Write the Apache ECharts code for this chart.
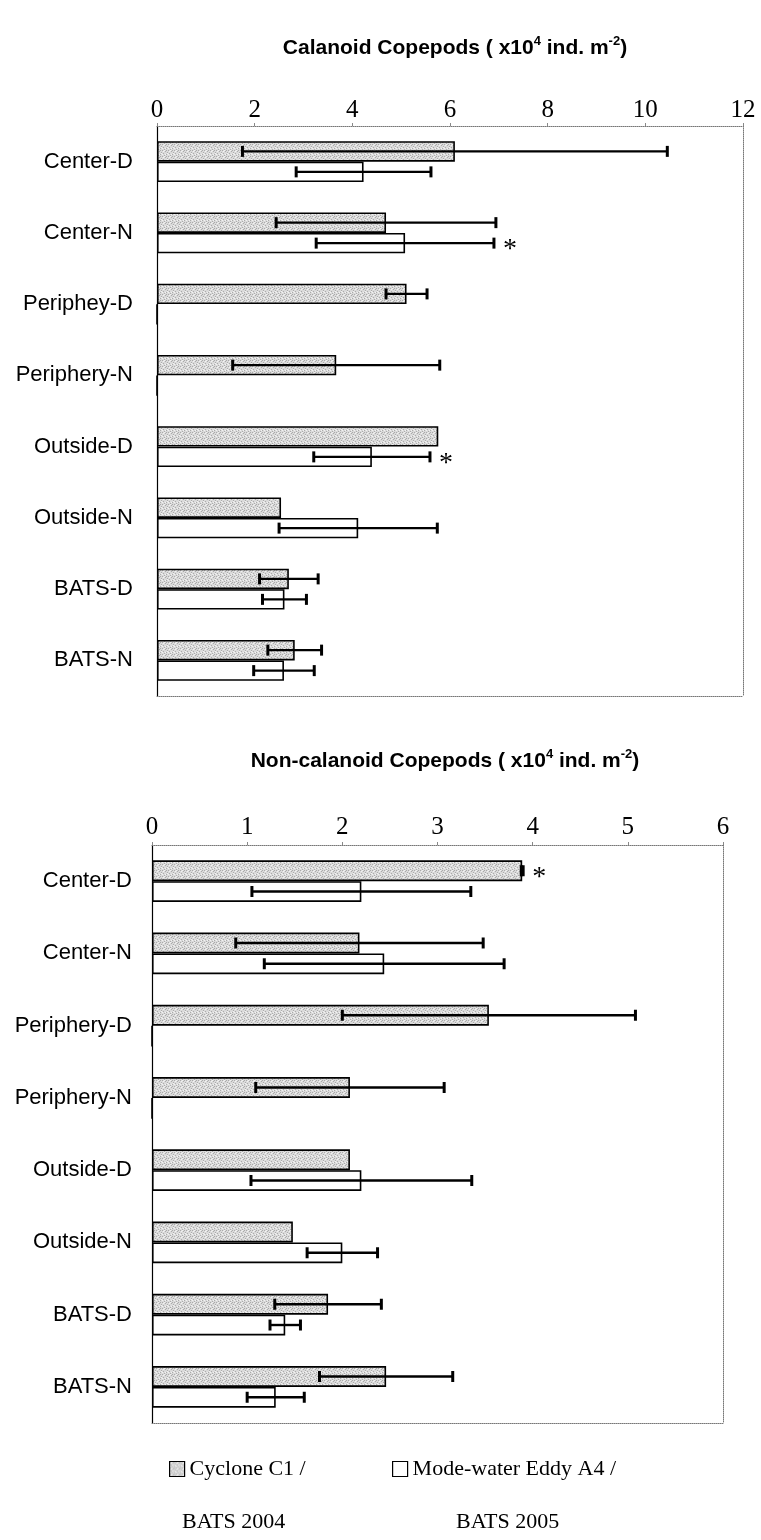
<!DOCTYPE html>
<html>
<head>
<meta charset="utf-8">
<script src="https://cdn.jsdelivr.net/npm/echarts@6/dist/echarts.min.js"></script>
<style>
  html, body { margin: 0; padding: 0; background: #fff; }
  #chart { width: 761px; height: 1540px; }
</style>
</head>
<body>
<div id="chart"></div>
<script>
// Sampling stations (day / night casts)
const calCategories = ['Center-D', 'Center-N', 'Periphey-D', 'Periphery-N', 'Outside-D', 'Outside-N', 'BATS-D', 'BATS-N'];
const nonCategories = ['Center-D', 'Center-N', 'Periphery-D', 'Periphery-N', 'Outside-D', 'Outside-N', 'BATS-D', 'BATS-N'];

// Series names
const seriesNames = ['Cyclone C1 / BATS 2004', 'Mode-water Eddy A4 / BATS 2005'];
const legendLine1 = ['Cyclone C1 /', 'Mode-water Eddy A4 /'];
const legendLine2 = ['BATS 2004', 'BATS 2005'];

// Calanoid copepods, x10^4 ind. m^-2 (mean and standard deviation)
const calCyclone   = [6.10, 4.69, 5.11, 3.67, 5.76, 2.54, 2.70, 2.82];
const calCycloneSd = [4.35, 2.25, 0.42, 2.12, null, null, 0.60, 0.55];
const calEddy      = [4.23, 5.08, 0, 0, 4.40, 4.12, 2.61, 2.60];
const calEddySd    = [1.38, 1.82, null, null, 1.19, 1.62, 0.45, 0.62];
const calCycloneSig = [0, 0, 0, 0, 0, 0, 0, 0];
const calEddySig    = [0, 1, 0, 0, 1, 0, 0, 0];

// Non-calanoid copepods, x10^4 ind. m^-2
const nonCyclone   = [3.89, 2.18, 3.54, 2.08, 2.08, 1.48, 1.85, 2.46];
const nonCycloneSd = [0.01, 1.30, 1.54, 0.99, null, null, 0.56, 0.70];
const nonEddy      = [2.20, 2.44, 0, 0, 2.20, 2.00, 1.40, 1.30];
const nonEddySd    = [1.15, 1.26, null, null, 1.16, 0.37, 0.16, 0.30];
const nonCycloneSig = [1, 0, 0, 0, 0, 0, 0, 0];
const nonEddySig    = [0, 0, 0, 0, 0, 0, 0, 0];

// Value axis ranges
const calRange = { min: 0, max: 12, step: 2 };
const nonRange = { min: 0, max: 6, step: 1 };

const CAT_GAP = 0.425;           // barCategoryGap as a fraction
const SANS = '"Liberation Sans", Arial, sans-serif';
const SERIF = '"Liberation Serif", "Times New Roman", serif';

// Speckled light-grey fill
function stipple() {
  const c = document.createElement('canvas');
  c.width = 6; c.height = 6;
  const g = c.getContext('2d');
  g.fillStyle = '#dadada'; g.fillRect(0, 0, 6, 6);
  g.fillStyle = '#ababab';
  [[0,0],[3,1],[1,3],[4,4],[2,5],[5,2],[4,0]].forEach(p => g.fillRect(p[0], p[1], 1, 1));
  g.fillStyle = '#f2f2f2';
  [[2,0],[5,3],[0,4],[3,4],[1,1]].forEach(p => g.fillRect(p[0], p[1], 1, 1));
  return c;
}
const greyFill = { image: stipple(), repeat: 'repeat' };

function barSeries(name, values, axisIdx, fill) {
  return {
    name, type: 'bar', xAxisIndex: axisIdx, yAxisIndex: axisIdx,
    data: values,
    barGap: '0%', barCategoryGap: (CAT_GAP * 100) + '%',
    itemStyle: { color: fill, borderColor: '#000', borderWidth: 1.6 },
    emphasis: { disabled: true },
    z: 2
  };
}

function errorSeries(means, sds, sig, axisIdx, slot) {
  return {
    type: 'custom', xAxisIndex: axisIdx, yAxisIndex: axisIdx, z: 5,
    silent: true,
    encode: { x: 0, y: 1 },
    data: means.map((m, i) => [m, i, sds[i] == null ? NaN : sds[i], sig[i]]),
    renderItem(params, api) {
      const mean = api.value(0), cat = api.value(1), sd = api.value(2), star = api.value(3);
      const band = api.size([0, 1])[1];
      const barW = band * (1 - CAT_GAP) / 2;
      const base = api.coord([mean, cat]);
      const y = base[1] + (slot === 0 ? -0.5 : 0.5) * barW;
      const kids = [];
      let endX = base[0];
      if (isFinite(sd)) {
        const a = api.coord([mean - sd, cat])[0];
        const b = api.coord([mean + sd, cat])[0];
        endX = b;
        const cap = { stroke: '#000', lineWidth: 3 };
        kids.push({ type: 'line', shape: { x1: a, y1: y, x2: b, y2: y }, style: { stroke: '#000', lineWidth: 2.4 } });
        kids.push({ type: 'line', shape: { x1: a, y1: y - 5.5, x2: a, y2: y + 5.5 }, style: cap });
        kids.push({ type: 'line', shape: { x1: b, y1: y - 5.5, x2: b, y2: y + 5.5 }, style: cap });
      }
      if (star) {
        kids.push({ type: 'text', x: endX + 9, y: y + 7,
          style: { text: '*', font: '28px ' + SERIF, fill: '#000', align: 'left', verticalAlign: 'middle' } });
      }
      return { type: 'group', children: kids };
    }
  };
}

function valueAxis(gridIdx, range, pos, main, margin) {
  return {
    type: 'value', gridIndex: gridIdx, position: pos,
    min: range.min, max: range.max, interval: range.step,
    axisLine: { show: true, onZero: false, lineStyle: { color: '#777', width: 1, type: 'dotted' } },
    axisTick: { show: main, length: 3, lineStyle: { color: '#888' } },
    axisLabel: { show: main, color: '#000', fontFamily: SERIF, fontSize: 25, margin: main ? margin : 0 },
    splitLine: { show: false }
  };
}

function catAxis(gridIdx, cats, pos, main, margin) {
  return {
    type: 'category', gridIndex: gridIdx, position: pos, data: cats, inverse: true,
    axisLine: { show: true, onZero: false, lineStyle: main ? { color: '#000', width: 1.2 } : { color: '#777', width: 1, type: 'dotted' } },
    axisTick: { show: false },
    axisLabel: { show: main, color: '#000', fontFamily: SANS, fontSize: 22, margin },
    splitLine: { show: false }
  };
}

function titleText(label) {
  return '{b|' + label + ' ( x10}{s|4}{b| ind. m}{s|-2}{b|)}';
}
const titleRich = {
  b: { fontFamily: SANS, fontWeight: 'bold', fontSize: 21, color: '#000', lineHeight: 26 },
  s: { fontFamily: SANS, fontWeight: 'bold', fontSize: 13, color: '#000', verticalAlign: 'top', lineHeight: 26 }
};

const chart = echarts.init(document.getElementById('chart'), null, { renderer: 'canvas' });

const option = {
  backgroundColor: '#fff',
  animation: false,
  title: [
    { text: titleText('Calanoid Copepods'), left: 450, top: 30, textAlign: 'center', textStyle: { rich: titleRich } },
    { text: titleText('Non-calanoid Copepods'), left: 440, top: 743, textAlign: 'center', textStyle: { rich: titleRich } }
  ],
  grid: [
    { left: 157, top: 126, width: 586, height: 570, containLabel: false, outerBoundsMode: 'none' },
    { left: 152, top: 845, width: 571, height: 578, containLabel: false, outerBoundsMode: 'none' }
  ],
  xAxis: [
    valueAxis(0, calRange, 'top', true, 3),
    valueAxis(1, nonRange, 'top', true, 5),
    valueAxis(0, calRange, 'bottom', false, 0),
    valueAxis(1, nonRange, 'bottom', false, 0)
  ],
  yAxis: [
    catAxis(0, calCategories, 'left', true, 24),
    catAxis(1, nonCategories, 'left', true, 20),
    catAxis(0, calCategories, 'right', false, 0),
    catAxis(1, nonCategories, 'right', false, 0)
  ],
  legend: [0, 1].map(k => ({
    data: [seriesNames[k]],
    left: k === 0 ? 164 : 387, top: 1453,
    itemWidth: 15, itemHeight: 15,
    itemGap: 0,
    icon: 'rect',
    selectedMode: false,
    formatter: () => legendLine1[k],
    textStyle: { fontFamily: SERIF, fontSize: 22, color: '#000' },
    itemStyle: { borderColor: '#000', borderWidth: 1.2 }
  })),
  graphic: [
    { type: 'text', left: 182, top: 1511, style: { text: legendLine2[0], font: '22px ' + SERIF, fill: '#000' } },
    { type: 'text', left: 456, top: 1511, style: { text: legendLine2[1], font: '22px ' + SERIF, fill: '#000' } }
  ],
  series: [
    barSeries(seriesNames[0], calCyclone, 0, greyFill),
    barSeries(seriesNames[1], calEddy, 0, '#fff'),
    barSeries(seriesNames[0], nonCyclone, 1, greyFill),
    barSeries(seriesNames[1], nonEddy, 1, '#fff'),
    errorSeries(calCyclone, calCycloneSd, calCycloneSig, 0, 0),
    errorSeries(calEddy, calEddySd, calEddySig, 0, 1),
    errorSeries(nonCyclone, nonCycloneSd, nonCycloneSig, 1, 0),
    errorSeries(nonEddy, nonEddySd, nonEddySig, 1, 1)
  ]
};
chart.setOption(option);
</script>
</body>
</html>
